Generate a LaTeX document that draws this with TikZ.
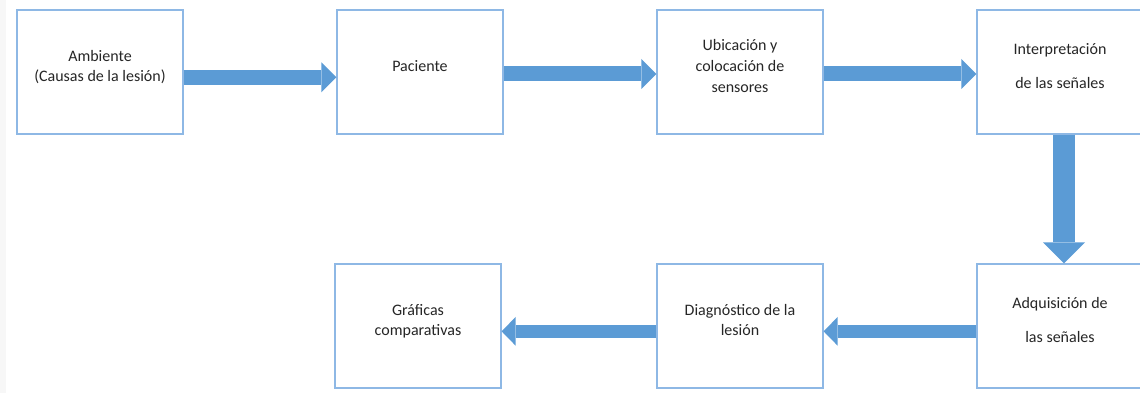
\documentclass[tikz,border=0pt]{standalone}
\usepackage{fontspec}
\setmainfont{Carlito}
\usetikzlibrary{arrows.meta}
\definecolor{boxblue}{HTML}{8EB8E5}
\definecolor{arrowblue}{HTML}{5B9BD5}
\definecolor{txtgray}{HTML}{262626}
\tikzset{
    box/.style={rectangle, draw=boxblue, line width=0.9pt, fill=white,
        minimum width=124.5pt, minimum height=93pt, align=center,
        font=\fontsize{12}{15.5}\selectfont, text=txtgray, text depth=9pt},
    flowtop/.style={draw=arrowblue, line width=11.25pt,
        -{Triangle[width=22.5pt, length=11.25pt, line width=0pt]}},
    flowdown/.style={draw=arrowblue, line width=16.5pt,
        -{Triangle[width=31.5pt, length=15.75pt, line width=0pt]}},
    flowback/.style={draw=arrowblue, line width=10pt,
        -{Triangle[width=21.5pt, length=10.5pt, line width=0pt]}}
}

\begin{document}
\begin{tikzpicture}[x=0.75pt, y=0.75pt]
	\useasboundingbox (0,0) rectangle (1140,393);
	\fill[gray!6] (0,0) rectangle (6,393);

	\node (1) [box] at (100, 321) {Ambiente\\(Causas de la lesión)};
	\node (2) [box] at (420, 321) {Paciente};
	\node (3) [box] at (740, 321) {Ubicación y\\colocación de\\sensores};
	\node (4) [box] at (1060, 321) {Interpretación\\[10pt]de las señales};
	\node (5) [box] at (1060, 67) {Adquisición de\\[10pt]las señales};
	\node (6) [box] at (740, 67) {Diagnóstico de la\\lesión};
	\node (7) [box] at (418, 67) {Gráficas\\comparativas};

	\draw ([yshift=-4pt]1.east) edge[flowtop] ([yshift=-4pt]2.west);
	\draw ([yshift=-1.5pt]2.east) edge[flowtop] ([yshift=-1.5pt]3.west);
	\draw ([yshift=-1.5pt]3.east) edge[flowtop] ([yshift=-1.5pt]4.west);

	\draw ([xshift=3pt]4.south) edge[flowdown] ([xshift=3pt]5.north);

	\draw ([yshift=-4pt]5.west) edge[flowback] ([yshift=-4pt]6.east);
	\draw ([yshift=-4pt]6.west) edge[flowback] ([yshift=-4pt]7.east);
\end{tikzpicture}
\end{document}
